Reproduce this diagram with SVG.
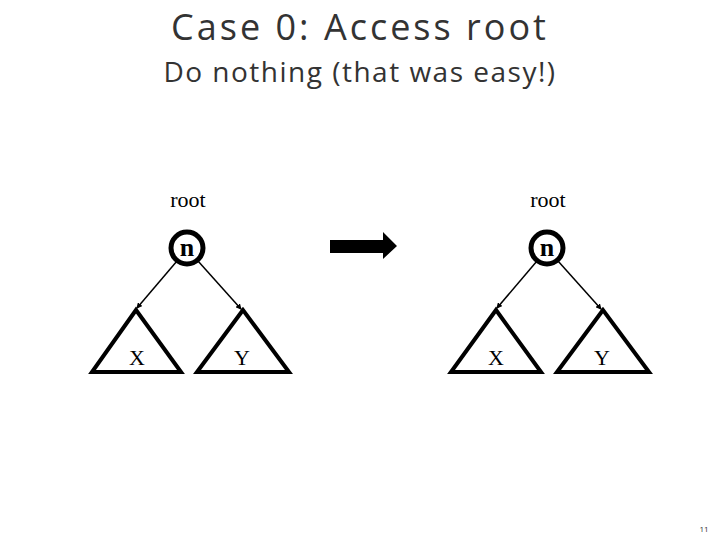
<svg xmlns="http://www.w3.org/2000/svg" width="720" height="540" viewBox="0 0 720 540">
<style>
.t{font-family:"Open Sans","DejaVu Sans",sans-serif;fill:#333}
.s{font-family:"Liberation Serif",serif;fill:#000}
.tri{fill:#fff;stroke:#000;stroke-width:4}
.c{fill:#fff;stroke:#000;stroke-width:5}
.e{stroke:#000;stroke-width:1.5;fill:none;marker-end:url(#a)}
</style>
<defs><marker id="a" markerWidth="6" markerHeight="6" refX="5" refY="3" orient="auto" markerUnits="userSpaceOnUse"><path d="M0,0L6,3L0,6z"/></marker></defs>
<rect width="720" height="540" fill="#fff"/>
<text class="t" x="360" y="40" font-size="36" letter-spacing="3" text-anchor="middle">Case 0: Access root</text>
<text class="t" x="360" y="82" font-size="28" letter-spacing="1.5" text-anchor="middle">Do nothing (that was easy!)</text>
<g id="connectors">
<line class="e" x1="177" y1="261" x2="137" y2="308"/>
<line class="e" x1="198" y1="261" x2="241" y2="309"/>
<line class="e" x1="537" y1="261" x2="497" y2="308"/>
<line class="e" x1="558" y1="261" x2="601" y2="309"/>
<path d="M330,240H383V232L397,246L383,259V253H330Z" fill="#000"/>
</g>
<g id="tree1">
<text class="s" x="188" y="207" font-size="22" text-anchor="middle">root</text>
<g id="n1"><circle class="c" cx="187" cy="248" r="16"/><text class="s" x="187" y="256" font-size="26" font-weight="bold" text-anchor="middle">n</text></g>
<g id="x1"><polygon class="tri" points="136,310 92,372 181,372"/><text class="s" x="137" y="365" font-size="22" text-anchor="middle">X</text></g>
<g id="y1"><polygon class="tri" points="243,310 197,372 289,372"/><text class="s" x="242" y="365" font-size="22" text-anchor="middle">Y</text></g>
</g>
<g id="tree2">
<text class="s" x="548" y="207" font-size="22" text-anchor="middle">root</text>
<g id="n2"><circle class="c" cx="547" cy="248" r="16"/><text class="s" x="547" y="256" font-size="26" font-weight="bold" text-anchor="middle">n</text></g>
<g id="x2"><polygon class="tri" points="496,310 451,372 541,372"/><text class="s" x="496" y="365" font-size="22" text-anchor="middle">X</text></g>
<g id="y2"><polygon class="tri" points="603,310 557,372 649,372"/><text class="s" x="602" y="365" font-size="22" text-anchor="middle">Y</text></g>
</g>
<text class="t" x="704" y="532" font-size="8" text-anchor="middle">11</text>
</svg>
